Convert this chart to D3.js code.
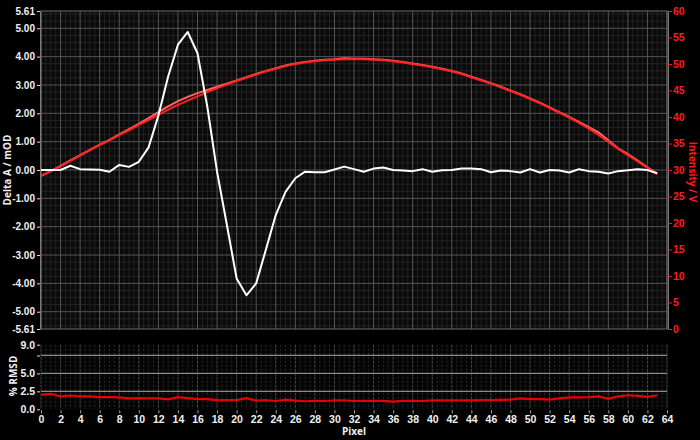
<!DOCTYPE html>
<html><head><meta charset="utf-8">
<script src="https://cdn.jsdelivr.net/npm/d3@7"></script>
<style>
html,body{margin:0;padding:0;background:#000;}
svg{display:block;font-family:"Open Sans","Noto Sans",sans-serif;font-weight:700;}
</style></head><body>
<svg id="c" width="700" height="440"></svg>
<script>
// ---- data ----
const pixels = d3.range(0, 64);
const deltaA = [0.00,0.00,0.00,0.15,0.03,0.02,0.01,-0.06,0.18,0.11,0.29,0.80,1.92,3.30,4.42,4.87,4.12,2.24,-0.06,-1.93,
  -3.83,-4.42,-4.00,-2.80,-1.59,-0.77,-0.29,-0.06,-0.08,-0.08,0.02,0.12,0.03,-0.06,0.05,0.09,0.00,-0.02,-0.04,0.03,
  -0.06,-0.01,0.00,0.05,0.05,0.03,-0.08,-0.02,-0.04,-0.09,0.03,-0.09,0.00,-0.02,-0.09,0.03,-0.04,-0.06,-0.12,-0.04,
  -0.01,0.03,0.00,-0.12];
const intensityA = [28.9,29.8,30.7,31.7,32.7,33.7,34.7,35.6,36.6,37.5,38.5,39.4,40.4,41.4,42.3,43.1,43.9,44.7,45.4,46.1,
  46.8,47.4,48.0,48.6,49.1,49.6,50.0,50.3,50.5,50.7,50.8,50.9,50.9,50.9,50.8,50.7,50.5,50.3,50.0,49.7,
  49.4,49.0,48.6,48.1,47.5,46.9,46.3,45.6,44.9,44.2,43.4,42.6,41.7,40.8,39.9,38.9,37.8,36.6,35.3,34.0,
  32.8,31.6,30.4,29.2];
const intensityB = [28.9,29.8,30.8,31.8,32.8,33.8,34.8,35.7,36.7,37.7,38.7,39.8,40.9,42.0,43.0,43.8,44.5,45.1,45.7,46.3,
  46.9,47.5,48.1,48.7,49.2,49.7,50.1,50.4,50.6,50.8,50.9,51.1,51.0,51.0,50.9,50.8,50.6,50.4,50.1,49.8,
  49.5,49.1,48.7,48.2,47.6,47.0,46.4,45.7,45.0,44.3,43.5,42.7,41.8,40.9,40.0,39.1,38.1,37.1,35.6,34.1,
  33.0,31.8,30.5,29.3];
const rmsd = [2.00,2.14,1.79,1.92,1.79,1.79,1.70,1.70,1.65,1.52,1.56,1.52,1.52,1.38,1.70,1.56,1.43,1.43,1.29,1.29,
  1.29,1.54,1.20,1.29,1.16,1.34,1.20,1.12,1.16,1.16,1.25,1.25,1.16,1.16,1.16,1.16,1.07,1.16,1.16,1.16,
  1.25,1.25,1.25,1.25,1.25,1.27,1.29,1.31,1.34,1.52,1.43,1.43,1.34,1.52,1.65,1.65,1.70,1.79,1.47,1.79,
  1.96,1.88,1.74,1.96];
const xTicks = d3.range(0, 65, 2);
const leftTicks = [5.61,5,4,3,2,1,0,-1,-2,-3,-4,-5,-5.61];
const rightTicks = d3.range(0, 61, 5);
const rmsdTicks = [0,2.5,5,7.5,9];
const rmsdLabels = ["0.0","2.5","5.0","","9.0"];

// ---- scales ----
const svg = d3.select("#c");
const x = d3.scaleLinear().domain([0,64]).range([41,667]);
const yL = d3.scaleLinear().domain([-5.61,5.61]).range([329,11]);
const yR = d3.scaleLinear().domain([0,60]).range([329,11]);
const yB = d3.scaleLinear().domain([0,9]).range([409.3,344.7]);

// ---- main plot background & grid ----
const g = svg.append("g");
g.append("rect").attr("x",x(0)).attr("y",yL(5.61)).attr("width",x(64)-x(0)).attr("height",yL(-5.61)-yL(5.61)).attr("fill","#0a0a0a");
d3.range(0,64.01,0.5).forEach(v=>{ if(v%2!==0) g.append("line").attr("x1",x(v)).attr("x2",x(v)).attr("y1",yL(5.61)).attr("y2",yL(-5.61)).attr("stroke","#232323").attr("stroke-width",1);});
d3.range(-5.5,5.51,0.25).forEach(v=>{ if(Math.abs(v%1)>1e-9) g.append("line").attr("x1",x(0)).attr("x2",x(64)).attr("y1",yL(v)).attr("y2",yL(v)).attr("stroke","#232323").attr("stroke-width",1);});
xTicks.forEach(v=>g.append("line").attr("x1",x(v)).attr("x2",x(v)).attr("y1",yL(5.61)).attr("y2",yL(-5.61)).attr("stroke","#555").attr("stroke-width",1));
d3.range(-5,5.01,1).forEach(v=>g.append("line").attr("x1",x(0)).attr("x2",x(64)).attr("y1",yL(v)).attr("y2",yL(v)).attr("stroke","#555").attr("stroke-width",1));
g.append("rect").attr("x",x(0)).attr("y",yL(5.61)).attr("width",x(64)-x(0)).attr("height",yL(-5.61)-yL(5.61)).attr("fill","none").attr("stroke","#6a6a6a");

// ---- axes ----
const fmtL = d=>d.toFixed(2);
const axL = svg.append("g").attr("transform",`translate(${x(0)-1},0)`)
  .call(d3.axisLeft(yL).tickValues(leftTicks).tickFormat(fmtL).tickSize(3).tickPadding(2));
axL.select(".domain").attr("stroke","#777");
axL.selectAll(".tick line").attr("stroke","#ddd");
axL.selectAll("text").attr("fill","#f0f0f0").style("font-size","10px").style("font-weight","700");

const axR = svg.append("g").attr("transform",`translate(${x(64)+1},0)`)
  .call(d3.axisRight(yR).tickValues(rightTicks).tickSize(4).tickPadding(1));
axR.select(".domain").attr("stroke","#777");
axR.selectAll(".tick line").attr("stroke","#ff1a1a");
axR.selectAll("text").attr("fill","#ff1a1a").style("font-size","10.5px").style("font-weight","700");

svg.append("text").attr("transform",`translate(11,170) rotate(-90)`).attr("text-anchor","middle")
  .attr("fill","#f0f0f0").style("font-size","10px").text("Delta A / mOD");
svg.append("text").attr("transform",`translate(689,172) rotate(90)`).attr("text-anchor","middle")
  .attr("fill","#ff1a1a").style("font-size","10px").text("Intensity / V");

// ---- main lines ----
const lineR = d3.line().x((d,i)=>x(pixels[i])).y(d=>yR(d));
const lineL = d3.line().x((d,i)=>x(pixels[i])).y(d=>yL(d));
svg.append("path").datum(intensityB).attr("d",lineR).attr("fill","none").attr("stroke","#ff6464").attr("stroke-width",2);
svg.append("path").datum(intensityA).attr("d",lineR).attr("fill","none").attr("stroke","#ff2020").attr("stroke-width",2);
svg.append("path").datum(deltaA).attr("d",lineL).attr("fill","none").attr("stroke","#ffffff").attr("stroke-width",2).attr("stroke-linejoin","round");

// ---- bottom panel ----
const b = svg.append("g");
b.append("rect").attr("x",x(0)).attr("y",yB(9)).attr("width",x(64)-x(0)).attr("height",yB(0)-yB(9)).attr("fill","#050505");
d3.range(0,64.01,0.5).forEach(v=>{ if(v%2!==0) b.append("line").attr("x1",x(v)).attr("x2",x(v)).attr("y1",yB(9)).attr("y2",yB(0)).attr("stroke","#2c2c2c").attr("stroke-dasharray","2,2");});
xTicks.forEach(v=>b.append("line").attr("x1",x(v)).attr("x2",x(v)).attr("y1",yB(9)).attr("y2",yB(0)).attr("stroke","#4a4a4a").attr("stroke-dasharray","3,1"));
[2.5,5,7.5].forEach(v=>b.append("line").attr("x1",x(0)).attr("x2",x(64)).attr("y1",yB(v)).attr("y2",yB(v)).attr("stroke","#8a8a8a").attr("stroke-width",1.2));

const axB = svg.append("g").attr("transform",`translate(${x(0)-1},0)`)
  .call(d3.axisLeft(yB).tickValues(rmsdTicks).tickFormat((d,i)=>rmsdLabels[i]).tickSize(3).tickPadding(2));
axB.select(".domain").remove();
axB.selectAll(".tick line").attr("stroke","#ddd");
axB.selectAll("text").attr("fill","#f0f0f0").style("font-size","10.5px").style("font-weight","700");

svg.append("text").attr("transform",`translate(17,376) rotate(-90)`).attr("text-anchor","middle")
  .attr("fill","#f0f0f0").style("font-size","10px").text("% RMSD");

const axX = svg.append("g").attr("transform",`translate(0,${yB(0)+1})`)
  .call(d3.axisBottom(x).tickValues(xTicks).tickSize(3).tickPadding(2));
axX.select(".domain").remove();
axX.selectAll(".tick line").attr("stroke","#aaa");
axX.selectAll("text").attr("fill","#f0f0f0").style("font-size","10.5px").style("font-weight","700");

svg.append("text").attr("x",354).attr("y",435).attr("text-anchor","middle")
  .attr("fill","#f0f0f0").style("font-size","10px").text("Pixel");

const lineB = d3.line().x((d,i)=>x(pixels[i])).y(d=>yB(d));
svg.append("path").datum(rmsd).attr("d",lineB).attr("fill","none").attr("stroke","#e80000").attr("stroke-width",2.2);
</script>
</body></html>
